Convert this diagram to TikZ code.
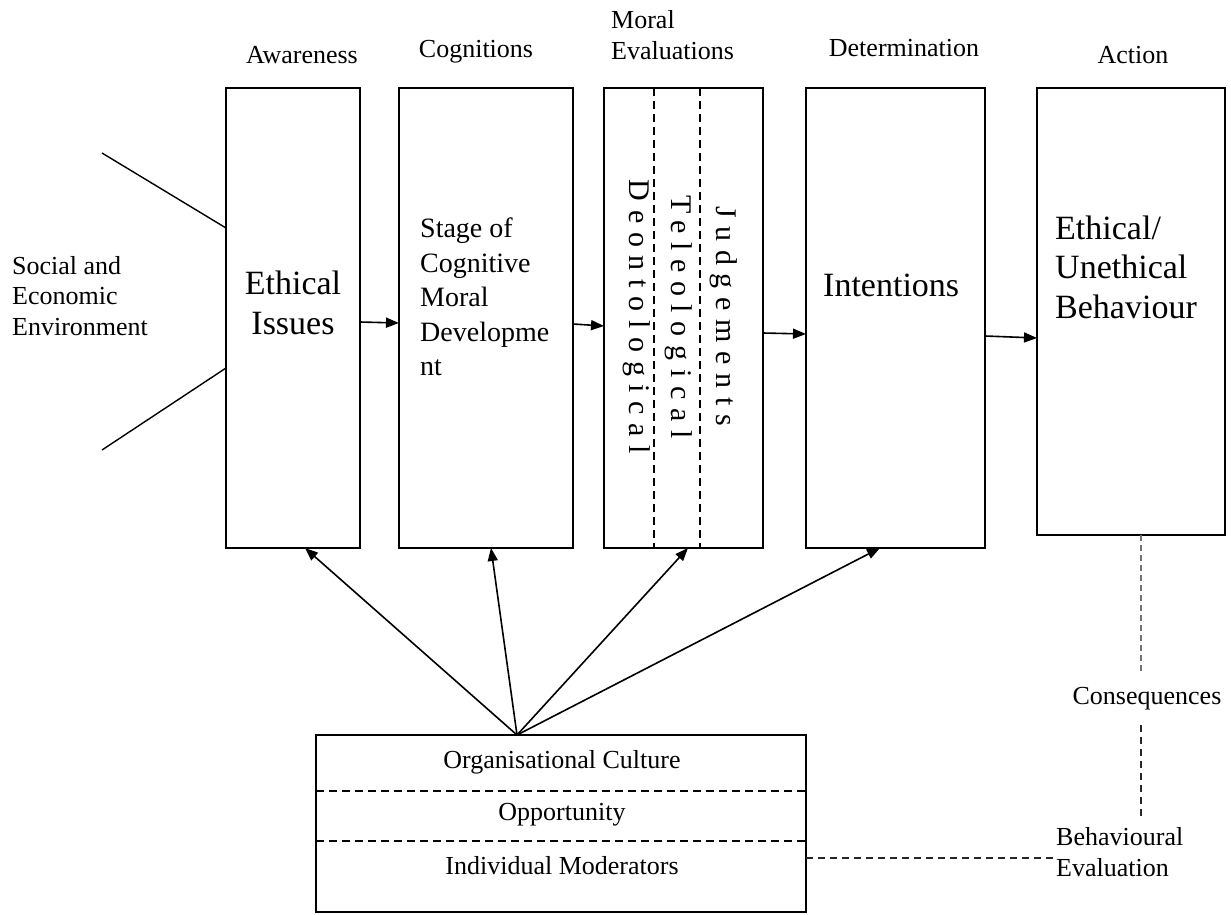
\documentclass[tikz,border=0pt]{standalone}
\usepackage{fontspec}
\setmainfont{Liberation Serif}
\newfontfamily\spaced[LetterSpace=29]{Liberation Serif}
\usetikzlibrary{arrows.meta}
\begin{document}
\begin{tikzpicture}[x=1pt,y=-1pt,
  stagebox/.style={draw,line width=2pt,inner sep=0pt,outer sep=0pt,anchor=north west},
  small/.style={font=\fontsize{26}{30.5}\selectfont,inner sep=0pt},
  big/.style={font=\fontsize{34}{39.5}\selectfont,inner sep=0pt},
  arr/.style={line width=1.6pt,-{Triangle[length=13pt,width=10pt]}},
  divider/.style={line width=1.4pt,dash pattern=on 8pt off 5pt},
  feedback/.style={line width=2.6pt,black!55,dash pattern=on 6pt off 4pt},
  feedbackthin/.style={line width=1.5pt,black!85,dash pattern=on 7pt off 5pt},
  vtext/.style={font=\spaced\fontsize{30}{34}\selectfont,rotate=-90,inner sep=0pt}]
\useasboundingbox (0,0) rectangle (1231,915);

% stage boxes
\node[stagebox,minimum width=134pt,minimum height=460pt] (ei) at (226,88) {};
\node[stagebox,minimum width=174pt,minimum height=460pt] (cm) at (399,88) {};
\node[stagebox,minimum width=159pt,minimum height=460pt] (me) at (604,88) {};
\node[stagebox,minimum width=179pt,minimum height=460pt] (in) at (806,88) {};
\node[stagebox,minimum width=188pt,minimum height=447pt] (ac) at (1037,88) {};
\node[stagebox,minimum width=490pt,minimum height=177pt] (mod) at (316,735) {};

% stage headings
\node[small,anchor=base] (hAw) at (302,64) {Awareness};
\node[small,anchor=base] (hCo) at (476,58) {Cognitions};
\node[small,anchor=west,align=left] (hMo) at (611,35) {Moral\\Evaluations};
\node[small,anchor=base] (hDe) at (904,57) {Determination};
\node[small,anchor=base] (hAc) at (1133,64) {Action};

% box contents
\node[big,align=center] (tEI) at (293,303) {Ethical\\Issues};
\node[font=\fontsize{28}{34.5}\selectfont,inner sep=0pt,anchor=west,align=left] (tCM) at (420,297)
  {Stage of\\Cognitive\\Moral\\Developme\\nt};
\node[big,anchor=west] (tIn) at (823,285) {Intentions};
\node[big,anchor=west,align=left] (tAc) at (1055,267) {Ethical/\\Unethical\\Behaviour};

% moral evaluation columns
\draw[divider] (me.north -| 654,0) -- (me.south -| 654,0);
\draw[divider] (me.north -| 700,0) -- (me.south -| 700,0);
\node[vtext] (jud) at (724,316) {Judgements};
\node[vtext] (tel) at (679,317) {Teleological};
\node[vtext] (deo) at (637,317) {Deontological};

% environment
\node[small,anchor=west,align=left] (env) at (12,296) {Social and\\Economic\\Environment};
\coordinate (envA) at (102,153);
\coordinate (envB) at (102,450);
\draw[line width=1.4pt] (envA) -- (ei.west |- 0,228);
\draw[line width=1.4pt] (envB) -- (ei.west |- 0,368);

% main sequence
\draw[arr] (ei.east |- 0,322) -- (cm.west |- 0,323);
\draw[arr] (cm.east |- 0,324) -- (me.west |- 0,326);
\draw[arr] (me.east |- 0,333) -- (in.west |- 0,334);
\draw[arr] (in.east |- 0,336) -- (ac.west |- 0,338);

% moderators box
\draw[divider] (mod.west |- 0,791) -- (mod.east |- 0,791);
\draw[divider] (mod.west |- 0,841) -- (mod.east |- 0,841);
\node[small] (oc) at (562,762) {Organisational Culture};
\node[small] (op) at (562,815) {Opportunity};
\node[small] (im) at (562,866) {Individual Moderators};

% influences of moderators
\coordinate (fan) at (517,735);
\draw[arr] (fan) -- (ei.south -| 305,0);
\draw[arr] (fan) -- (cm.south -| 491,0);
\draw[arr] (fan) -- (me.south -| 688,0);
\draw[arr] (fan) -- (in.south -| 880,0);

% feedback loop
\node[small] (cons) at (1147,699) {Consequences};
\node[small,anchor=west,align=left] (be) at (1056,852) {Behavioural\\Evaluation};
\draw[feedback,shorten >=13pt] (ac.south -| 1141,0) -- (cons.north -| 1141,0);
\draw[feedbackthin,shorten <=14pt,shorten >=11pt] (cons.south -| 1141,0) -- (be.north -| 1141,0);
\draw[feedbackthin] (mod.east |- 0,858) -- (be.west |- 0,858);
\end{tikzpicture}
\end{document}
